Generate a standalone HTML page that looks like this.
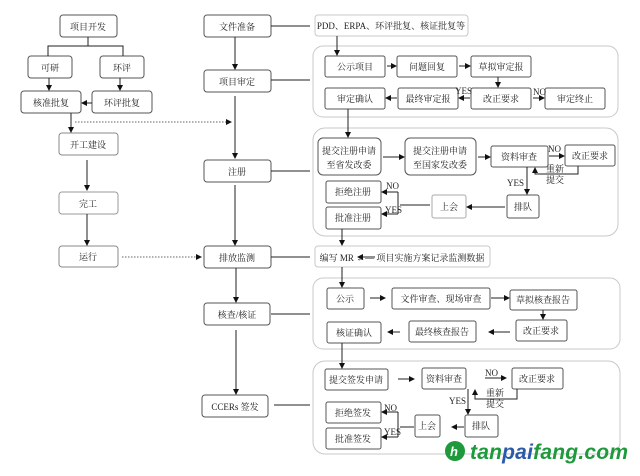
<!DOCTYPE html>
<html><head><meta charset="utf-8"><style>
html,body{margin:0;padding:0;background:#fff}
svg text{font-family:"Liberation Serif","Noto Serif CJK SC",serif;font-size:9px;fill:#222}
</style></head><body>
<svg width="640" height="471" viewBox="0 0 640 471" xmlns="http://www.w3.org/2000/svg">
<defs>
<marker id="a" markerWidth="6" markerHeight="6" refX="5" refY="3" orient="auto" markerUnits="userSpaceOnUse"><path d="M0,0 L6,3 L0,6 z" fill="#111"/></marker>
</defs>
<g fill="none" stroke="#c8c8c8" stroke-width="1">
<rect x="313" y="46" width="305" height="71" rx="10"/>
<rect x="313" y="128" width="305" height="108" rx="12"/>
<rect x="313" y="278" width="307" height="71" rx="10"/>
<rect x="313" y="361" width="307" height="93" rx="12"/>
<rect x="315" y="15" width="153" height="21" rx="3"/>
<rect x="315" y="246" width="175" height="21" rx="3"/>
</g>
<g fill="#fff" stroke="#555" stroke-width="1">
<rect x="60" y="15" width="57" height="22" rx="3"/>
<rect x="28" y="56" width="44" height="22" rx="3"/>
<rect x="100" y="56" width="44" height="22" rx="3"/>
<rect x="21" y="91" width="60" height="22" rx="3"/>
<rect x="92" y="91" width="60" height="22" rx="3"/>
<rect x="59" y="133" width="59" height="22" rx="3" stroke="#888"/>
<rect x="59" y="192" width="59" height="22" rx="3" stroke="#999"/>
<rect x="59" y="246" width="59" height="21" rx="3" stroke="#888"/>
<rect x="204" y="15" width="67" height="22" rx="3"/>
<rect x="204" y="70" width="67" height="22" rx="3"/>
<rect x="204" y="160" width="67" height="22" rx="3"/>
<rect x="204" y="246" width="67" height="22" rx="3"/>
<rect x="204" y="303" width="66" height="22" rx="3"/>
<rect x="202" y="395" width="66" height="22" rx="3"/>
<rect x="325" y="56" width="60" height="21" rx="2"/>
<rect x="397" y="56" width="60" height="21" rx="2"/>
<rect x="471" y="56" width="60" height="21" rx="2"/>
<rect x="325" y="88" width="60" height="21" rx="2"/>
<rect x="398" y="88" width="60" height="21" rx="2"/>
<rect x="471" y="88" width="60" height="21" rx="2"/>
<rect x="545" y="88" width="60" height="21" rx="2"/>
<rect x="318" y="138" width="63" height="37" rx="5"/>
<rect x="405" y="138" width="71" height="37" rx="5"/>
<rect x="491" y="146" width="57" height="21" rx="2"/>
<rect x="565" y="145" width="50" height="21" rx="2"/>
<rect x="507" y="195" width="32" height="23" rx="2"/>
<rect x="432" y="195" width="34" height="23" rx="2" stroke="#aaa"/>
<rect x="326" y="181" width="55" height="22" rx="2"/>
<rect x="326" y="207" width="55" height="22" rx="2"/>
<rect x="327" y="288" width="37" height="21" rx="2"/>
<rect x="392" y="288" width="98" height="21" rx="2"/>
<rect x="510" y="290" width="67" height="20" rx="2"/>
<rect x="327" y="322" width="54" height="21" rx="2"/>
<rect x="409" y="321" width="67" height="21" rx="2"/>
<rect x="516" y="320" width="51" height="21" rx="2"/>
<rect x="325" y="369" width="63" height="21" rx="2"/>
<rect x="422" y="368" width="44" height="21" rx="2"/>
<rect x="512" y="368" width="51" height="21" rx="2"/>
<rect x="465" y="415" width="33" height="22" rx="2"/>
<rect x="415" y="415" width="25" height="22" rx="2"/>
<rect x="326" y="402" width="55" height="21" rx="2"/>
<rect x="326" y="428" width="55" height="21" rx="2"/>
</g>
<g stroke="#222" stroke-width="1" fill="none">
<path d="M88 37V46M48 56V46H123V56"/>
<path d="M49 78V90" marker-end="url(#a)"/>
<path d="M120 78V90" marker-end="url(#a)"/>
<path d="M92 103H82" marker-end="url(#a)"/>
<path d="M71 113V132" marker-end="url(#a)"/>
<path d="M87 160V190" marker-end="url(#a)"/>
<path d="M87 214V245" marker-end="url(#a)"/>
<path d="M235 37V69" marker-end="url(#a)"/>
<path d="M235 96V158" marker-end="url(#a)"/>
<path d="M235 185V245" marker-end="url(#a)"/>
<path d="M236 268V302" marker-end="url(#a)"/>
<path d="M236 330V394" marker-end="url(#a)"/>
<path d="M271 26H310M271 80H310M271 171H310M271 257H310M271 314H310M274 405H310"/>
<path d="M337 36V55" marker-end="url(#a)"/>
<path d="M387 66H396" marker-end="url(#a)"/>
<path d="M459 66H470" marker-end="url(#a)"/>
<path d="M498 77V87" marker-end="url(#a)"/>
<path d="M470 98H459" marker-end="url(#a)"/>
<path d="M533 98H544" marker-end="url(#a)"/>
<path d="M397 98H386" marker-end="url(#a)"/>
<path d="M348 109V137" marker-end="url(#a)"/>
<path d="M383 157H404" marker-end="url(#a)"/>
<path d="M478 157H490" marker-end="url(#a)"/>
<path d="M549 156H564" marker-end="url(#a)"/>
<path d="M578 166V174H535V168" marker-end="url(#a)"/>
<path d="M527 167V194" marker-end="url(#a)"/>
<path d="M505 207H467" marker-end="url(#a)"/>
<path d="M430 205H400M398 192V214"/>
<path d="M398 192H382" marker-end="url(#a)"/>
<path d="M398 214H382" marker-end="url(#a)"/>
<path d="M342 229V245" marker-end="url(#a)"/>
<path d="M375 257H358" marker-end="url(#a)"/>
<path d="M342 267V287" marker-end="url(#a)"/>
<path d="M370 298H385" marker-end="url(#a)"/>
<path d="M491 298H509" marker-end="url(#a)"/>
<path d="M543 310V319" marker-end="url(#a)"/>
<path d="M510 332H489" marker-end="url(#a)"/>
<path d="M400 332H388" marker-end="url(#a)"/>
<path d="M342 343V368" marker-end="url(#a)"/>
<path d="M398 379H414" marker-end="url(#a)"/>
<path d="M485 378H506" marker-end="url(#a)"/>
<path d="M517 389V399H475V390" marker-end="url(#a)"/>
<path d="M468 389V414" marker-end="url(#a)"/>
<path d="M464 427H452" marker-end="url(#a)"/>
<path d="M414 427H400M398 412V437"/>
<path d="M398 412H382" marker-end="url(#a)"/>
<path d="M398 437H382" marker-end="url(#a)"/>
</g>
<g stroke="#666" stroke-width="1" fill="none" stroke-dasharray="1.5,1.5">
<path d="M75 122H231" marker-end="url(#a)"/>
<path d="M122 257H201" marker-end="url(#a)"/>
</g>
<g text-anchor="middle">
<text x="88" y="30">项目开发</text>
<text x="50" y="71">可研</text>
<text x="122" y="71">环评</text>
<text x="51" y="106">核准批复</text>
<text x="122" y="106">环评批复</text>
<text x="88" y="148">开工建设</text>
<text x="88" y="207">完工</text>
<text x="88" y="260">运行</text>
<text x="237" y="30">文件准备</text>
<text x="237" y="85">项目审定</text>
<text x="237" y="175">注册</text>
<text x="237" y="261">排放监测</text>
<text x="237" y="318">核查/核证</text>
<text x="235" y="410">CCERs 签发</text>
<text x="391" y="29" font-size="8">PDD、ERPA、环评批复、核证批复等</text>
<text x="355" y="70" font-size="8">公示项目</text>
<text x="427" y="70" font-size="8">问题回复</text>
<text x="501" y="70" font-size="8">草拟审定报</text>
<text x="355" y="102" font-size="8">审定确认</text>
<text x="428" y="102" font-size="8">最终审定报</text>
<text x="501" y="102" font-size="8">改正要求</text>
<text x="575" y="102" font-size="8">审定终止</text>
<text x="349" y="154" font-size="8">提交注册申请</text>
<text x="349" y="168" font-size="8">至省发改委</text>
<text x="440" y="154" font-size="8">提交注册申请</text>
<text x="440" y="168" font-size="8">至国家发改委</text>
<text x="519" y="160" font-size="8">资料审查</text>
<text x="590" y="159" font-size="8">改正要求</text>
<text x="555" y="172" font-size="6">重新</text>
<text x="555" y="183" font-size="6">提交</text>
<text x="523" y="210" font-size="8">排队</text>
<text x="449" y="210" font-size="8">上会</text>
<text x="353" y="195" font-size="8">拒绝注册</text>
<text x="353" y="221" font-size="8">批准注册</text>
<text x="402" y="261" font-size="8">编写 MR ←— 项目实施方案记录监测数据</text>
<text x="345" y="302" font-size="8">公示</text>
<text x="441" y="302">文件审查、现场审查</text>
<text x="543" y="303" font-size="8">草拟核查报告</text>
<text x="354" y="336" font-size="8">核证确认</text>
<text x="442" y="335" font-size="8">最终核查报告</text>
<text x="541" y="334" font-size="8">改正要求</text>
<text x="356" y="383" font-size="8">提交签发申请</text>
<text x="444" y="382" font-size="8">资料审查</text>
<text x="537" y="382" font-size="8">改正要求</text>
<text x="495" y="396" font-size="6">重新</text>
<text x="495" y="407" font-size="6">提交</text>
<text x="481" y="429" font-size="8">排队</text>
<text x="427" y="429" font-size="8">上会</text>
<text x="353" y="416" font-size="8">拒绝签发</text>
<text x="353" y="442" font-size="8">批准签发</text>
</g>
<g font-size="7">
<text x="455" y="94" font-size="6">YES</text>
<text x="533" y="95" font-size="6">NO</text>
<text x="548" y="152">NO</text>
<text x="507" y="186">YES</text>
<text x="386" y="189">NO</text>
<text x="385" y="213">YES</text>
<text x="485" y="376">NO</text>
<text x="449" y="404">YES</text>
<text x="384" y="411">NO</text>
<text x="384" y="435">YES</text>
</g>
<circle cx="455" cy="451" r="10" fill="#1e9a3c"/>
<text x="450" y="456" style="font-family:'Liberation Sans',sans-serif;font-size:13px;font-weight:bold;fill:#fff" font-style="italic">h</text>
<text x="470" y="459" style="font-family:'Liberation Sans',sans-serif;font-size:21px;font-weight:bold;font-style:italic;fill:#1e9a3c" textLength="158">tan<tspan style="fill:#2a5aa8">pai</tspan>fang.com</text>
</svg>
</body></html>
